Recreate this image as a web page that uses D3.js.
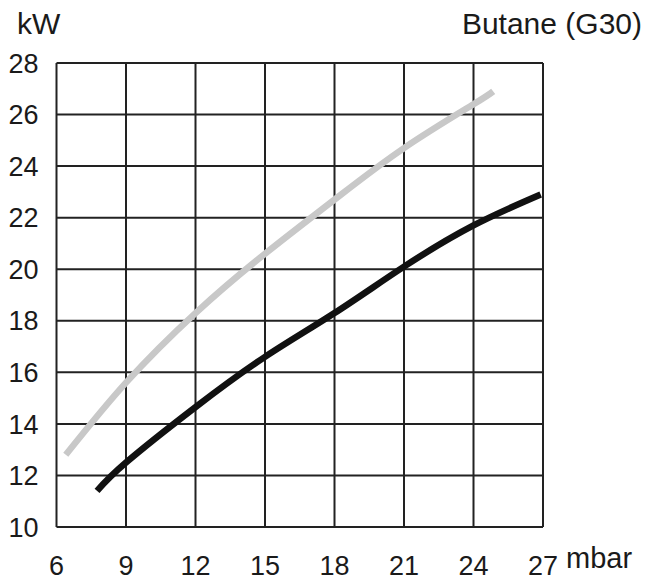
<!DOCTYPE html>
<html>
<head>
<meta charset="utf-8">
<script src="https://cdn.jsdelivr.net/npm/d3@7"></script>
<style>
  body { margin: 0; background: #fff; }
  text { font-family: "Liberation Sans", Arial, sans-serif; fill: #1a1a1a; }
</style>
</head>
<body>
<svg id="chart" width="646" height="584"></svg>
<script>
var x_ticks = [6, 9, 12, 15, 18, 21, 24, 27];
var y_ticks = [10, 12, 14, 16, 18, 20, 22, 24, 26, 28];

// [mbar, kW]
var light_curve = [[6.4, 12.8], [9, 15.6], [12, 18.3], [15, 20.6], [18, 22.7], [21, 24.7], [24, 26.4], [24.85, 26.9]];
var dark_curve = [[7.75, 11.4], [9, 12.5], [12, 14.65], [15, 16.6], [18, 18.3], [21, 20.1], [24, 21.7], [26.9, 22.9]];

var margin = {top: 63, right: 103, bottom: 57, left: 56.5};
var width = 646 - margin.left - margin.right;
var height = 584 - margin.top - margin.bottom;

var chart = d3.select('#chart');

var xs = d3.scaleLinear().domain([6, 27]).range([0, width]);
var ys = d3.scaleLinear().domain([10, 28]).range([height, 0]);

var g = chart.append('g')
    .attr('transform', 'translate(' + margin.left + ',' + margin.top + ')');

// grid
g.selectAll('.vline')
    .data(x_ticks)
    .enter()
    .append('line')
        .attr('x1', d => xs(d))
        .attr('x2', d => xs(d))
        .attr('y1', 0)
        .attr('y2', height)
        .attr('stroke', '#222')
        .attr('stroke-width', 2);

g.selectAll('.hline')
    .data(y_ticks)
    .enter()
    .append('line')
        .attr('x1', 0)
        .attr('x2', width)
        .attr('y1', d => ys(d))
        .attr('y2', d => ys(d))
        .attr('stroke', '#222')
        .attr('stroke-width', 2);

var line = d3.line()
    .x(d => xs(d[0]))
    .y(d => ys(d[1]))
    .curve(d3.curveNatural);

g.append('path')
    .datum(light_curve)
    .attr('fill', 'none')
    .attr('stroke', '#c8c8c8')
    .attr('stroke-width', 6.5)
    .attr('d', line);

g.append('path')
    .datum(dark_curve)
    .attr('fill', 'none')
    .attr('stroke', '#111')
    .attr('stroke-width', 6.5)
    .attr('d', line);

// tick labels
g.selectAll('.ylab')
    .data(y_ticks)
    .enter()
    .append('text')
        .attr('x', -18)
        .attr('y', d => ys(d))
        .attr('dy', '0.36em')
        .attr('text-anchor', 'end')
        .style('font-size', '27px')
        .text(d => d);

g.selectAll('.xlab')
    .data(x_ticks)
    .enter()
    .append('text')
        .attr('x', d => xs(d))
        .attr('y', height + 48)
        .attr('text-anchor', 'middle')
        .style('font-size', '27px')
        .text(d => d);

chart.append('text')
    .attr('x', 566)
    .attr('y', 568)
    .style('font-size', '29px')
    .text('mbar');

chart.append('text')
    .attr('x', 17)
    .attr('y', 34)
    .style('font-size', '30px')
    .text('kW');

chart.append('text')
    .attr('x', 642)
    .attr('y', 34)
    .attr('text-anchor', 'end')
    .style('font-size', '30px')
    .text('Butane (G30)');
</script>
</body>
</html>
